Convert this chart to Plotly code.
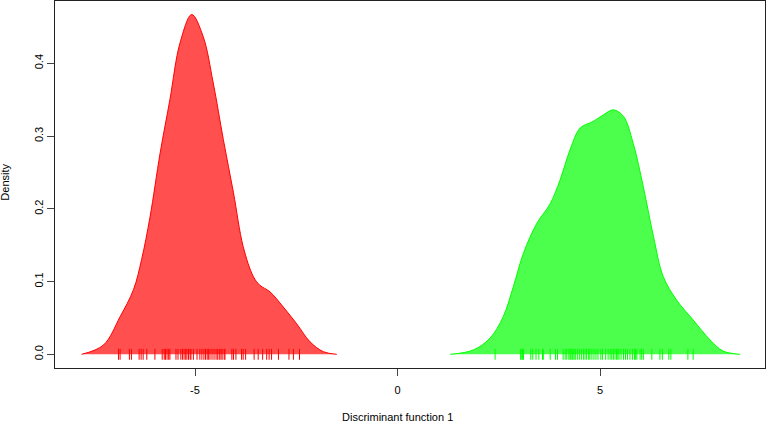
import plotly.graph_objects as go

# Density curve of group 1 (red)
red_x = [-7.80, -7.26, -6.85, -6.52, -6.32, -6.11, -5.86, -5.62, -5.37, -5.08,
         -4.80, -4.55, -4.30, -4.05, -3.81, -3.56, -3.40, -3.15, -2.82, -2.49,
         -2.16, -1.83, -1.50]
red_y = [0.0, 0.0128, 0.0517, 0.0888, 0.130, 0.189, 0.277, 0.350, 0.428, 0.467,
         0.437, 0.373, 0.295, 0.222, 0.148, 0.107, 0.095, 0.086, 0.065, 0.042,
         0.0172, 0.0036, 0.0]

# Density curve of group 2 (green)
green_x = [1.30, 1.87, 2.28, 2.61, 2.86, 3.11, 3.44, 3.77, 4.01, 4.26, 4.51,
           4.83, 5.08, 5.33, 5.58, 5.82, 6.07, 6.32, 6.56, 6.89, 7.30, 7.72,
           8.04, 8.46]
green_y = [0.0, 0.0059, 0.0220, 0.0517, 0.0930, 0.139, 0.180, 0.207, 0.239,
           0.281, 0.311, 0.320, 0.329, 0.336, 0.327, 0.290, 0.230, 0.162, 0.107,
           0.0747, 0.0472, 0.0197, 0.0045, 0.0]

# Individual discriminant scores (rug)
red_scores = [-6.89, -6.85, -6.62, -6.57, -6.38, -6.33, -6.28, -6.19, -5.99, -5.81,
              -5.76, -5.73, -5.69, -5.65, -5.62, -5.47, -5.42, -5.35, -5.31, -5.27,
              -5.23, -5.20, -5.16, -5.12, -5.10, -5.04, -4.95, -4.88, -4.83, -4.78,
              -4.74, -4.70, -4.67, -4.63, -4.58, -4.53, -4.48, -4.44, -4.40, -4.36,
              -4.33, -4.28, -4.26, -4.09, -4.05, -3.99, -3.85, -3.81, -3.75, -3.54,
              -3.44, -3.33, -3.23, -3.17, -3.11, -2.94, -2.68, -2.57, -2.42]
green_scores = [2.41, 3.04, 3.07, 3.09, 3.11, 3.29, 3.34, 3.42, 3.49, 3.58, 3.60,
                3.77, 3.90, 3.95, 4.09, 4.14, 4.18, 4.23, 4.26, 4.28, 4.31, 4.33,
                4.36, 4.39, 4.44, 4.49, 4.54, 4.59, 4.63, 4.67, 4.72, 4.75, 4.80,
                4.85, 4.90, 4.95, 5.02, 5.06, 5.14, 5.20, 5.25, 5.29, 5.33, 5.37,
                5.41, 5.44, 5.47, 5.52, 5.58, 5.63, 5.68, 5.74, 5.80, 5.85, 5.88,
                5.91, 5.99, 6.03, 6.07, 6.28, 6.48, 6.54, 6.70, 6.75, 7.17, 7.30]

x_ticks = [-5, 0, 5]
x_tick_labels = ["-5", "0", "5"]
y_ticks = [0.0, 0.1, 0.2, 0.3, 0.4]
y_tick_labels = ["0.0", "0.1", "0.2", "0.3", "0.4"]

RUG_HALF = 0.0075  # half height of a rug tick, in density units

fig = go.Figure()
for xs, ys, fill, line in [(red_x, red_y, "rgba(255,0,0,0.69)", "rgb(255,0,0)"),
                           (green_x, green_y, "rgba(0,255,0,0.70)", "rgb(0,255,0)")]:
    fig.add_trace(go.Scatter(x=xs, y=ys, mode="lines", fill="tozeroy",
                             fillcolor=fill,
                             line=dict(color=line, width=1, shape="spline", smoothing=1.0),
                             hoverinfo="skip", showlegend=False))

for sc, col in [(red_scores, "rgb(255,0,0)"), (green_scores, "rgb(0,255,0)")]:
    rx, ry = [], []
    for s in sc:
        rx += [s, s, None]
        ry += [-RUG_HALF, RUG_HALF, None]
    fig.add_trace(go.Scatter(x=rx, y=ry, mode="lines",
                             line=dict(color=col, width=1),
                             hoverinfo="skip", showlegend=False))

font = dict(family="Liberation Sans, Arial, sans-serif", size=11, color="black")
fig.update_layout(
    width=767, height=423,
    margin=dict(l=55, r=2, t=1, b=55),
    paper_bgcolor="white", plot_bgcolor="white",
    font=font,
    xaxis=dict(range=[-8.457, 9.074], tickvals=x_ticks, ticktext=x_tick_labels,
               showgrid=False, zeroline=False, showline=True, mirror=True,
               linecolor="#222", linewidth=1, ticks="outside", ticklen=7,
               tickcolor="#444", automargin=False, ticklabelstandoff=5),
    yaxis=dict(range=[-0.0188, 0.4856], tickvals=y_ticks, ticktext=y_tick_labels,
               showgrid=False, zeroline=False, showline=True, mirror=True,
               linecolor="#222", linewidth=1, ticks="outside", ticklen=7,
               tickcolor="#444", tickangle=-90, automargin=False,
               ticklabelstandoff=0),
    annotations=[
        dict(text="Density", xref="paper", yref="paper", x=0, y=0.505,
             xanchor="center", yanchor="middle", xshift=-50,
             textangle=-90, showarrow=False, font=font),
        dict(text="Discriminant function 1", xref="x", yref="paper", x=0, y=0,
             xanchor="center", yanchor="middle", yshift=-49,
             showarrow=False, font=font),
    ],
)

fig.write_html("out.html", config={"displayModeBar": False},
               post_script="document.body.style.margin='0';"
                           "document.body.style.overflow='hidden';")
